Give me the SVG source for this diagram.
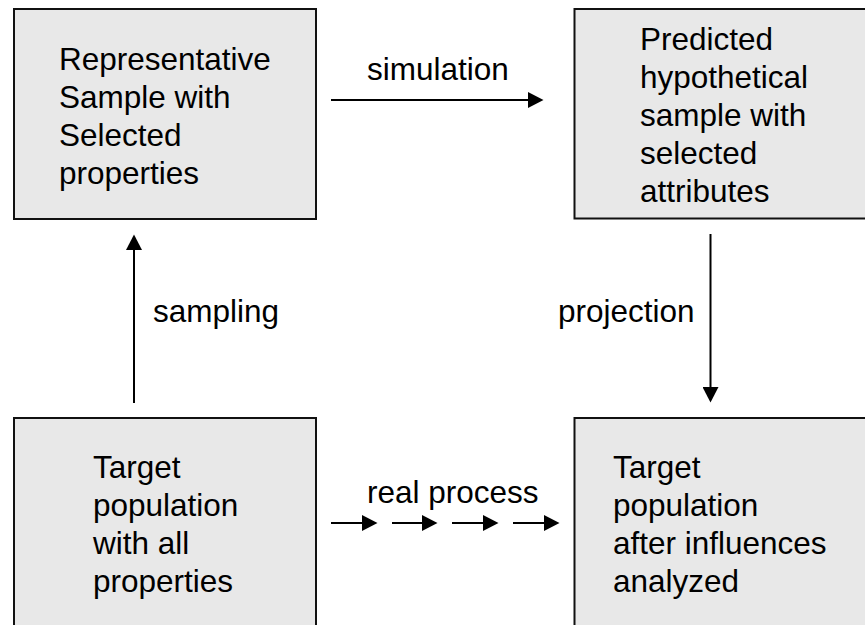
<svg xmlns="http://www.w3.org/2000/svg" width="865" height="625" viewBox="0 0 865 625">
  <style>
    .box { fill: #e8e8e8; stroke: #111; stroke-width: 2; }
    .lbl { font-family: "Liberation Sans", Arial, sans-serif; font-size: 31.5px; fill: #000; }
    .conn { stroke: #000; stroke-width: 2; fill: none; marker-end: url(#head); }
  </style>
  <defs>
    <marker id="head" markerUnits="userSpaceOnUse" markerWidth="16" markerHeight="16" refX="0" refY="8" orient="auto">
      <path d="M0,0 L15.5,8 L0,16 Z" fill="#000"/>
    </marker>
  </defs>

  <!-- top left: the sample -->
  <g id="sample">
    <rect class="box" x="14" y="9" width="302" height="210"/>
    <text class="lbl">
      <tspan x="59" y="70">Representative</tspan>
      <tspan x="59" y="108">Sample with</tspan>
      <tspan x="59" y="146">Selected</tspan>
      <tspan x="59" y="184">properties</tspan>
    </text>
  </g>

  <!-- top right: predicted sample -->
  <g id="predicted">
    <rect class="box" x="574.5" y="9" width="300" height="209.5"/>
    <text class="lbl">
      <tspan x="640" y="50">Predicted</tspan>
      <tspan x="640" y="88">hypothetical</tspan>
      <tspan x="640" y="126">sample with</tspan>
      <tspan x="640" y="164">selected</tspan>
      <tspan x="640" y="202">attributes</tspan>
    </text>
  </g>

  <!-- bottom left: the population -->
  <g id="population">
    <rect class="box" x="14" y="418" width="302" height="220"/>
    <text class="lbl">
      <tspan x="93" y="478">Target</tspan>
      <tspan x="93" y="516">population</tspan>
      <tspan x="93" y="554">with all</tspan>
      <tspan x="93" y="592">properties</tspan>
    </text>
  </g>

  <!-- bottom right: population after influences -->
  <g id="population-after">
    <rect class="box" x="574.5" y="418" width="300" height="220"/>
    <text class="lbl">
      <tspan x="613" y="478">Target</tspan>
      <tspan x="613" y="516">population</tspan>
      <tspan x="613" y="554">after influences</tspan>
      <tspan x="613" y="592">analyzed</tspan>
    </text>
  </g>

  <!-- connectors -->
  <g id="connectors">
    <line class="conn" x1="331" y1="100" x2="528" y2="100"/>
    <text class="lbl" x="367" y="80">simulation</text>

    <line class="conn" x1="134" y1="403" x2="134" y2="250"/>
    <text class="lbl" x="153" y="322">sampling</text>

    <line class="conn" x1="710.5" y1="234" x2="710.5" y2="387"/>
    <text class="lbl" x="558" y="322">projection</text>

    <line class="conn" x1="331" y1="523" x2="362" y2="523"/>
    <line class="conn" x1="392" y1="523" x2="422" y2="523"/>
    <line class="conn" x1="452" y1="523" x2="483" y2="523"/>
    <line class="conn" x1="513" y1="523" x2="544" y2="523"/>
    <text class="lbl" x="367" y="503">real process</text>
  </g>
</svg>
